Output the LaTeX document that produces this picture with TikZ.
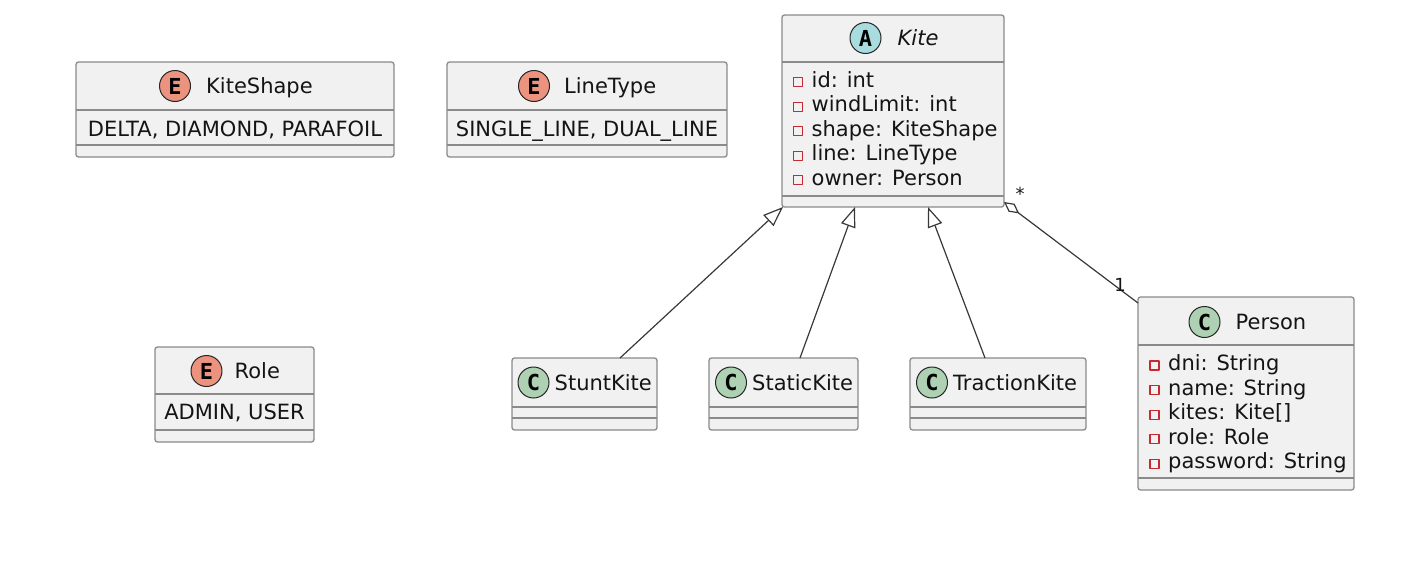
\documentclass[tikz,border=0pt]{standalone}
\usepackage{fontspec}
\setmainfont{DejaVu Sans}
\newfontfamily\iconfont{DejaVu Sans Mono}
\usetikzlibrary{positioning,arrows.meta}
\definecolor{boxfill}{HTML}{F1F1F1}
\definecolor{boxline}{HTML}{8A8A8A}
\definecolor{edgeline}{HTML}{383838}
\definecolor{enumicon}{HTML}{EB937F}
\definecolor{classicon}{HTML}{ADD1B2}
\definecolor{abstracticon}{HTML}{A9DCDF}
\definecolor{privred}{HTML}{C82930}
\tikzstyle{umlbox}=[draw=boxline,fill=boxfill,rounded corners=2.5pt,line width=1.3pt,inner sep=0pt,outer sep=0pt,anchor=north west]
\tikzstyle{divider}=[draw=boxline,line width=1.3pt]
\tikzstyle{icon}=[draw=black!85,circle,minimum size=31pt,inner sep=0pt,line width=1pt,font=\iconfont\fontsize{22}{22}\selectfont\bfseries]
\tikzstyle{txt}=[inner sep=0pt,font=\fontsize{21}{24.6}\selectfont,text=black!92]
\tikzstyle{priv}=[draw=privred,minimum size=9pt,inner sep=0pt,line width=1.1pt]
\tikzstyle{mult}=[inner sep=0pt,font=\fontsize{18}{18}\selectfont,text=black!92]
\tikzstyle{inherit}=[draw=edgeline,line width=1.2pt,-{Triangle[open,length=20pt,width=15pt]}]
\tikzstyle{aggr}=[draw=edgeline,line width=1.2pt,{Diamond[open,length=19pt,width=10pt]}-]
% box: name, x, y, width, height, header line y, body line y
\newcommand{\newBox}[7]{
  \node[umlbox,minimum width=#4pt,minimum height=#5pt](#1) at (#2,#3) {};
  \draw[divider] (#2,#6) -- ++(#4,0);
  \draw[divider] (#2,#7) -- ++(#4,0);}
% header: icon name, letter, fill, x, y, title name, title, gap
\newcommand{\newHead}[8]{
  \node[icon,fill=#3] (#1) at (#4,#5) {#2};
  \node[txt,anchor=base west] (#6) at ([xshift=#8pt,yshift=-7.5pt]#1.east) {#7};}
% fields: prefix, x of marker, first baseline, list
\newcommand{\newFields}[4]{
  \foreach \f [count=\i from 0] in {#4} {
    \node[priv] (#1m\i) at ({#2},{#3-5+24.6*\i}) {};
    \node[txt,anchor=base west] (#1t\i) at ({#2+13.5},{#3+24.6*\i}) {\f};
  }}

\begin{document}
\begin{tikzpicture}[x=1pt,y=-1pt,line join=round]
    \useasboundingbox (0,0) rectangle (1409,560);
    % enums
    \newBox{kiteshape}{76}{62}{318}{95}{110}{145}
    \newHead{iks}{E}{enumicon}{175}{86}{tks}{KiteShape}{15}
    \node[txt,anchor=base] (vks) at (235,136) {DELTA, DIAMOND, PARAFOIL};
    \newBox{linetype}{447}{62}{280}{95}{110}{145}
    \newHead{ilt}{E}{enumicon}{534}{86}{tlt}{LineType}{14}
    \node[txt,anchor=base] (vlt) at (587,136) {SINGLE\_LINE, DUAL\_LINE};
    \newBox{role}{155}{347}{159}{95}{394}{430}
    \newHead{iro}{E}{enumicon}{206.5}{371}{tro}{Role}{12}
    \node[txt,anchor=base] (vro) at (234.5,419.5) {ADMIN, USER};
    % abstract class
    \newBox{kite}{782}{15}{222}{192}{62}{196}
    \newHead{iki}{A}{abstracticon}{865.5}{38}{tki}{\itshape Kite}{16}
    \newFields{ka}{798}{87}{{id: int},{windLimit: int},{shape: KiteShape},{line: LineType},{owner: Person}}
    % subclasses
    \newBox{stunt}{512}{358}{145}{72}{407}{418}
    \newHead{ist}{C}{classicon}{533.5}{382.5}{tst}{StuntKite}{5}
    \newBox{static}{709}{358}{149}{72}{407}{418}
    \newHead{isa}{C}{classicon}{731}{382.5}{tsa}{StaticKite}{5}
    \newBox{traction}{910}{358}{176}{72}{407}{418}
    \newHead{itr}{C}{classicon}{932}{382.5}{ttr}{TractionKite}{5}
    % person
    \newBox{person}{1138}{297}{216}{193}{345}{478}
    \newHead{ipe}{C}{classicon}{1204.5}{322}{tpe}{Person}{15}
    \newFields{pa}{1154.5}{370.5}{{dni: String},{name: String},{kites: Kite[]},{role: Role},{password: String}}
    % relations
    \draw[inherit] ([xshift=35.5pt]stunt.north) -- ([xshift=1pt]kite.south west);
    \draw[inherit] ([xshift=16.5pt]static.north) -- ([xshift=-38pt]kite.south);
    \draw[inherit] ([xshift=-13pt]traction.north) -- ([xshift=35pt]kite.south);
    \draw[aggr] ([yshift=5pt]kite.south east) -- ([yshift=-6pt]person.north west);
    \node[mult] (mkite) at (1020,194) {*};
    \node[mult] (mperson) at (1120,285) {1};
  \end{tikzpicture}
\end{document}
